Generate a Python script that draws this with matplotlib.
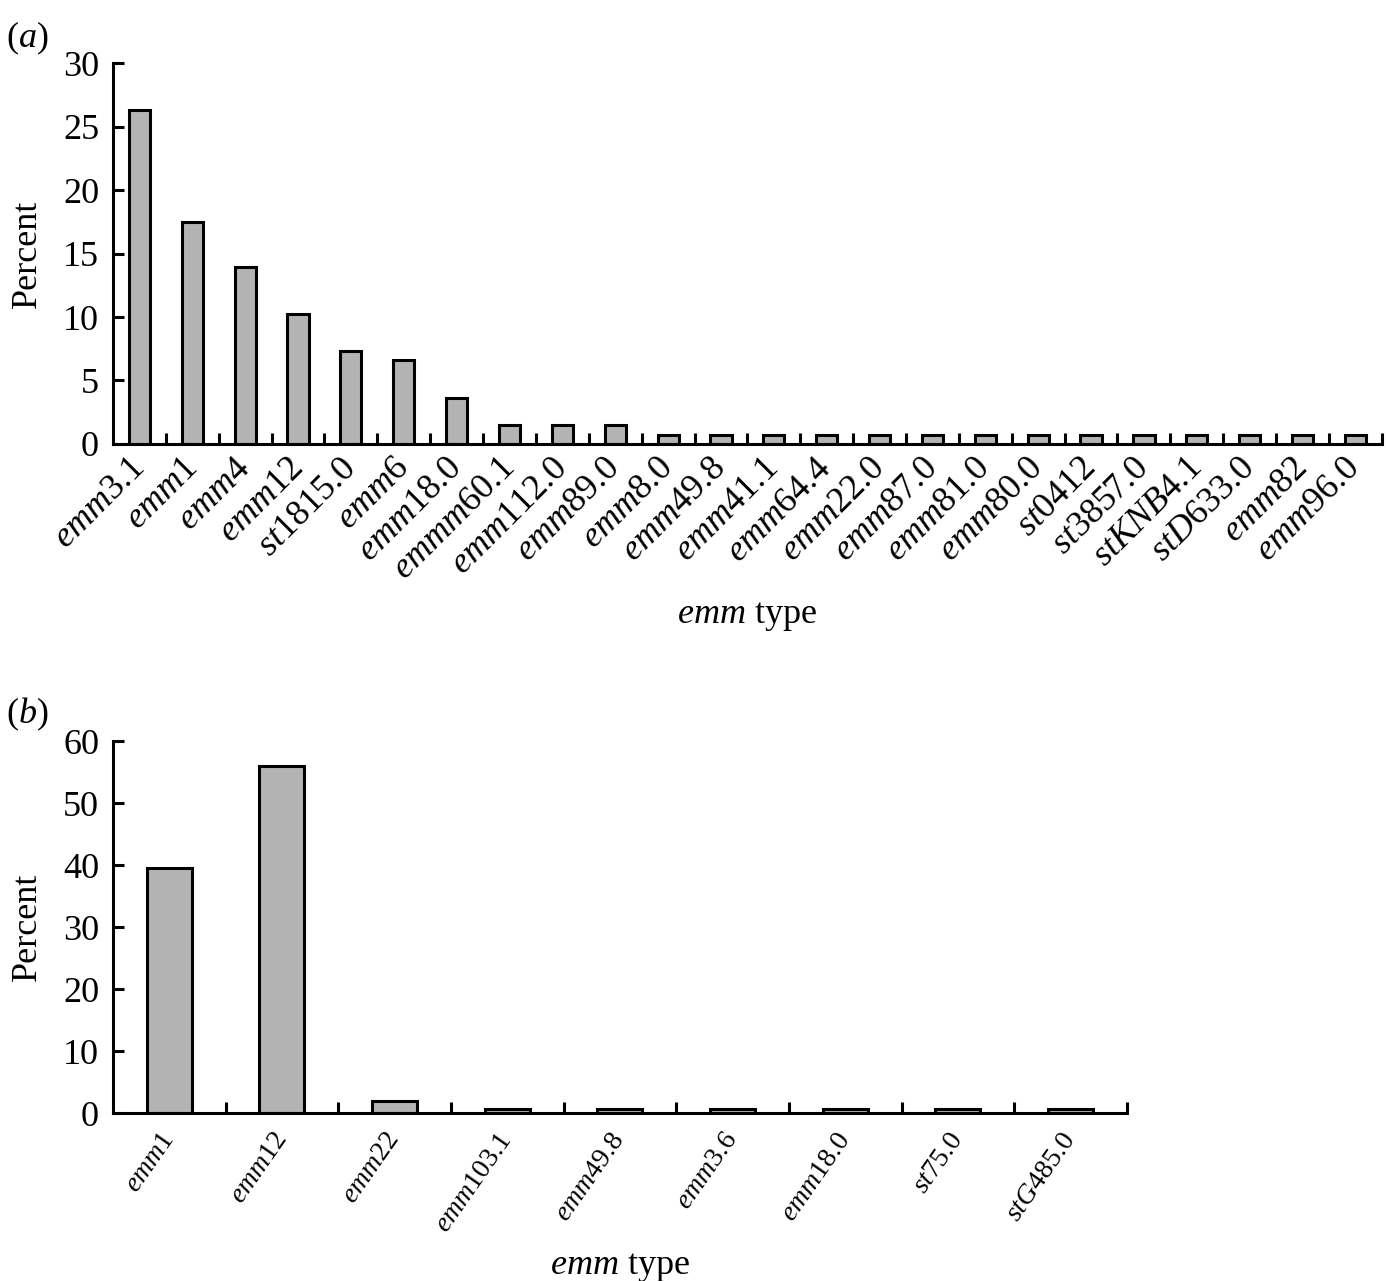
import numpy as np
import matplotlib
matplotlib.use("Agg")
import matplotlib.pyplot as plt

plt.rcParams["font.family"] = ["Liberation Serif", "DejaVu Serif"]
plt.rcParams["mathtext.fontset"] = "custom"
plt.rcParams["mathtext.rm"] = "Liberation Serif"
plt.rcParams["mathtext.it"] = "Liberation Serif:italic"

# panel (a)
types_a = [("emm", "3.1"), ("emm", "1"), ("emm", "4"), ("emm", "12"), ("st", "1815.0"),
           ("emm", "6"), ("emm", "18.0"), ("emmm", "60.1"), ("emm", "112.0"), ("emm", "89.0"),
           ("emm", "8.0"), ("emm", "49.8"), ("emm", "41.1"), ("emm", "64.4"), ("emm", "22.0"),
           ("emm", "87.0"), ("emm", "81.0"), ("emm", "80.0"), ("st", "0412"), ("st", "3857.0"),
           ("stKNB", "4.1"), ("stD", "633.0"), ("emm", "82"), ("emm", "96.0")]
pct_a = [26.3, 17.5, 13.9, 10.2, 7.3, 6.6, 3.65, 1.46, 1.46, 1.46,
         0.73, 0.73, 0.73, 0.73, 0.73, 0.73, 0.73, 0.73, 0.73, 0.73,
         0.73, 0.73, 0.73, 0.73]
yticks_a = [0, 5, 10, 15, 20, 25, 30]

# panel (b)
types_b = [("emm", "1"), ("emm", "12"), ("emm", "22"), ("emm", "103.1"), ("emm", "49.8"),
           ("emm", "3.6"), ("emm", "18.0"), ("st", "75.0"), ("stG", "485.0")]
pct_b = [39.6, 55.9, 1.9, 0.6, 0.6, 0.6, 0.6, 0.6, 0.6]
yticks_b = [0, 10, 20, 30, 40, 50, 60]

BAR = "#b3b3b3"


def label(parts):
    letters, num = parts
    return r"$\mathit{%s}$%s" % (letters, num)


def draw_panel(ax, types, pct, yticks, rot, lab_size, pad):
    n = len(types)
    x = np.arange(n)
    ax.bar(x, pct, width=0.4, color=BAR, edgecolor="black", linewidth=2.2)
    ax.set_xlim(-0.5, n - 0.5)
    ax.set_ylim(yticks[0], yticks[-1])
    ax.set_yticks(yticks)
    ax.set_xticks(x + 0.5)
    ax.set_xticklabels([])
    ax.set_xticks(x, minor=True)
    ax.set_xticklabels([label(t) for t in types], minor=True, rotation=rot,
                       ha="right", va="center", rotation_mode="anchor",
                       fontsize=lab_size)
    ax.tick_params(axis="x", which="minor", length=0, pad=pad)
    ax.tick_params(axis="both", which="major", direction="in", length=8,
                   width=2.2, labelsize=26)
    ax.tick_params(axis="y", pad=10)
    for s in ["top", "right"]:
        ax.spines[s].set_visible(False)
    for s in ["left", "bottom"]:
        ax.spines[s].set_linewidth(2.2)
    ax.set_ylabel("Percent", fontsize=26, labelpad=14)


fig = plt.figure(figsize=(13.86, 12.81), dpi=100)

ax_a = fig.add_axes([0.0815, 0.6534, 0.9155, 0.2974])
draw_panel(ax_a, types_a, pct_a, yticks_a, 45, 26, 14)
ax_a.set_xlabel(r"$\mathit{emm}$ type", fontsize=26, labelpad=10)

ax_b = fig.add_axes([0.0815, 0.1311, 0.7315, 0.2904])
draw_panel(ax_b, types_b, pct_b, yticks_b, 55, 20, 16)
ax_b.set_xlabel(r"$\mathit{emm}$ type", fontsize=26, labelpad=10)

fig.text(0.004, 0.985, r"($\mathit{a}$)", fontsize=26, va="top")
fig.text(0.004, 0.457, r"($\mathit{b}$)", fontsize=26, va="top")

fig.savefig("out.png", dpi=100, facecolor="white")
